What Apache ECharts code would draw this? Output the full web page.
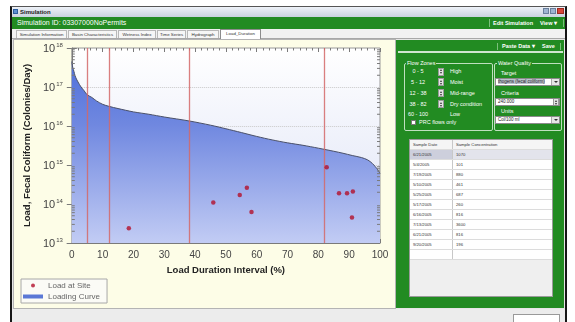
<!DOCTYPE html>
<html>
<head>
<meta charset="utf-8">
<script src="https://cdn.jsdelivr.net/npm/echarts@6/dist/echarts.min.js"></script>
<style>
  html,body{margin:0;padding:0;}
  body{width:575px;height:322px;overflow:hidden;background:#fff;position:relative;font-family:'Liberation Sans',Arial,sans-serif;}
  .a{position:absolute;box-sizing:border-box;white-space:nowrap;}
  .tab{position:absolute;top:30px;height:8px;border:1px solid #b8b8b8;border-bottom:none;background:#f6f6f6;font-size:4.4px;line-height:7px;color:#333;padding:0 2px;box-sizing:border-box;white-space:nowrap;overflow:hidden;text-align:center;}
  .w{color:#fff;}
  .spin{position:absolute;width:6px;height:8px;background:#e4e4e4;border:1px solid #9a9a9a;box-sizing:border-box;}
  .spin:before{content:'';position:absolute;left:1px;top:0.5px;border-left:1.5px solid transparent;border-right:1.5px solid transparent;border-bottom:2px solid #333;}
  .spin:after{content:'';position:absolute;left:1px;bottom:0.5px;border-left:1.5px solid transparent;border-right:1.5px solid transparent;border-top:2px solid #333;}
  .fld{position:absolute;background:#fff;border:1px solid #8a8a8a;box-sizing:border-box;font-size:4.5px;line-height:6px;color:#222;padding-left:2px;white-space:nowrap;overflow:hidden;}
  .dd{position:absolute;right:0;top:0;bottom:0;width:7px;background:#e6e6e6;border-left:1px solid #aaa;}
  .dd:after{content:'';position:absolute;left:1.5px;top:2px;border-left:2px solid transparent;border-right:2px solid transparent;border-top:2.5px solid #333;}
  .row{position:absolute;left:0;width:100%;height:10px;border-bottom:1px solid #dcdcdc;box-sizing:border-box;font-size:4.2px;line-height:9px;color:#333;white-space:nowrap;}
  .c1{position:absolute;left:0;top:0;width:43px;height:9px;padding-left:3px;box-sizing:border-box;border-right:1px solid #c8c8c8;}
  .c2{position:absolute;left:43px;top:0;right:0;height:9px;padding-left:3px;box-sizing:border-box;}
</style>
</head>
<body>
<!-- window frame -->
<div class="a" style="left:10px;top:6px;width:557px;height:320px;background:#e6e6e6;border-left:2px solid #161616;border-right:2px solid #161616;border-top:1px solid #555;"></div>
<!-- title bar -->
<div class="a" style="left:12px;top:7px;width:553px;height:10px;background:linear-gradient(#eef2f8,#c9d2de);"></div>
<div class="a" style="left:13px;top:9px;width:5px;height:5px;background:#5d8fd0;border:1px solid #2d5e9e;"></div>
<div class="a" style="left:20px;top:8px;font-size:6px;line-height:8px;font-weight:bold;color:#222;">Simulation</div>
<div class="a" style="left:543px;top:8px;width:6px;height:6px;background:#9fb4d0;border:1px solid #6a7f9c;"></div>
<div class="a" style="left:550px;top:8px;width:6px;height:6px;background:#9fb4d0;border:1px solid #6a7f9c;"></div>
<div class="a" style="left:557px;top:8px;width:7px;height:6px;background:#d9473a;border:1px solid #9c2a20;"></div>
<!-- green header -->
<div class="a" style="left:12px;top:17px;width:553px;height:12px;background:#228b22;"></div>
<div class="a w" style="left:17px;top:18px;font-size:7px;line-height:10px;">Simulation ID: 03307000NoPermits</div>
<div class="a" style="left:489px;top:19px;width:1px;height:8px;background:#7cc07c;"></div>
<div class="a w" style="left:493px;top:18px;font-size:5.5px;line-height:10px;font-weight:bold;">Edit Simulation</div>
<div class="a w" style="left:540px;top:18px;font-size:5.5px;line-height:10px;font-weight:bold;">View &#9662;</div>
<div class="a" style="left:563px;top:19px;width:1px;height:8px;background:#7cc07c;"></div>
<!-- tabs -->
<div class="a" style="left:12px;top:29px;width:553px;height:10px;background:#f1f1f1;border-bottom:1px solid #a8a8a8;"></div>
<div id="tabs"></div>
<!-- left chart panel -->
<div class="a" style="left:13px;top:39px;width:383px;height:270px;border:1px solid #b4b4b4;background:#fdfde7;"></div>
<div id="chart" class="a" style="left:14px;top:40px;width:381px;height:268px;"></div>
<!-- bottom strip -->
<div class="a" style="left:12px;top:309px;width:553px;height:13px;background:#ececec;"></div>
<div class="a" style="left:513px;top:314px;width:47px;height:10px;background:#fff;border:1px solid #999;"></div>
<!-- right green panel -->
<div class="a" style="left:396px;top:40px;width:168px;height:268px;background:#228b22;"></div>
<div class="a" style="left:497px;top:43px;width:1px;height:7px;background:#7cc07c;"></div>
<div class="a w" style="left:502px;top:42px;font-size:5.5px;line-height:8px;font-weight:bold;">Paste Data &#9662;</div>
<div class="a w" style="left:542px;top:42px;font-size:5.5px;line-height:8px;font-weight:bold;">Save</div>
<div class="a" style="left:560px;top:43px;width:1px;height:7px;background:#7cc07c;"></div>
<div class="a" style="left:398px;top:51px;width:165px;height:1.5px;background:#cfe6cf;"></div>
<!-- Flow zones group -->
<div class="a" style="left:404px;top:63px;width:89px;height:68px;border:1px solid #bfe0bf;border-radius:2px;"></div>
<div class="a w" style="left:406px;top:60px;font-size:5.5px;line-height:6px;background:#228b22;padding:0 1px;">Flow Zones</div>
<div id="zones"></div>
<div class="a" style="left:411px;top:120px;width:5px;height:5px;background:#fff;border:1px solid #777;"></div>
<div class="a w" style="left:419px;top:119px;font-size:5.5px;line-height:7px;">PRC flows only</div>
<!-- Water quality group -->
<div class="a" style="left:494px;top:63px;width:68px;height:68px;border:1px solid #bfe0bf;border-radius:2px;"></div>
<div class="a w" style="left:497px;top:60px;font-size:5.5px;line-height:6px;background:#228b22;padding:0 1px;">Water Quality</div>
<div class="a w" style="left:501px;top:70px;font-size:5.5px;line-height:7px;">Target</div>
<div class="fld" style="left:495px;top:78px;width:65px;height:8px;"><span style="background:#bcc3cf;">thogens (fecal coliform)</span><div class="dd"></div></div>
<div class="a w" style="left:501px;top:90px;font-size:5.5px;line-height:7px;">Criteria</div>
<div class="fld" style="left:495px;top:98px;width:65px;height:8px;">240.000<div class="spin" style="right:0;top:-1px;left:auto;width:6px;height:8px;"></div></div>
<div class="a w" style="left:501px;top:108px;font-size:5.5px;line-height:7px;">Units</div>
<div class="fld" style="left:495px;top:116px;width:65px;height:8px;">Col/100 ml<div class="dd"></div></div>
<!-- sample table -->
<div class="a" style="left:409px;top:139px;width:144px;height:158px;background:#efefef;border:1px solid #9a9a9a;"></div>
<div class="a" style="left:410px;top:140px;width:142px;height:120px;" id="table"></div>

<script>
// ---------- chart data ----------
const durationPct = [0, 0.3, 0.7, 1, 1.5, 2, 3, 4, 5, 6.5, 8, 10, 12, 15, 20, 25, 30, 38, 45, 50, 55, 60, 65, 70, 75, 80, 85, 88, 91, 94, 96, 97.5, 98.5, 99.3, 100];
const loadingCurve = [4.5e17, 3.2e17, 2.5e17, 2.0e17, 1.6e17, 1.35e17, 1.0e17, 8.0e16, 6.3e16, 5.4e16, 4.4e16, 3.6e16, 3.2e16, 2.8e16, 2.3e16, 2.0e16, 1.7e16, 1.35e16, 1.05e16, 8.5e15, 6.8e15, 5.4e15, 4.4e15, 3.7e15, 3.2e15, 2.7e15, 2.25e15, 2.0e15, 1.75e15, 1.55e15, 1.35e15, 1.1e15, 9.0e14, 7.5e14, 6.0e14];
const siteDuration = [18.5, 45.9, 54.5, 56.8, 58.3, 82.7, 86.7, 89.3, 91.2, 90.9];
const siteLoad = [2.4e13, 1.1e14, 1.7e14, 2.6e14, 6.2e13, 8.7e14, 1.9e14, 1.9e14, 2.1e14, 4.5e13];
const zoneBounds = [5, 12, 38, 82];
const xTickValues = [0, 10, 20, 30, 40, 50, 60, 70, 80, 90, 100];
const yDecades = [13, 14, 15, 16, 17, 18];
const minorMultipliers = [2, 3, 4, 5, 6, 7, 8, 9];

// ---------- UI data ----------
const tabNames = ['Simulation Information', 'Basin Characteristics', 'Wetness Index', 'Time Series', 'Hydrograph', 'Load_Duration'];
const tabLeft = [16, 68, 118, 157, 187, 220];
const tabWidth = [51, 49, 38, 29, 32, 41];
const zoneRanges = ['0 - 5', '5 - 12', '12 - 38', '38 - 82', '60 - 100'];
const zoneNames = ['High', 'Moist', 'Mid-range', 'Dry condition', 'Low'];
const sampleDates = ['6/21/2005', '5/4/2005', '7/19/2005', '5/10/2005', '5/25/2005', '5/17/2005', '6/16/2005', '7/13/2005', '6/21/2005', '9/20/2005'];
const sampleConc = ['1070', '101', '880', '461', '687', '260', '816', '3600', '816', '196'];

// build tabs
let th = '';
tabNames.forEach((t, i) => {
  const act = i === tabNames.length - 1;
  th += `<div class="tab" style="left:${tabLeft[i]}px;width:${tabWidth[i]}px;${act ? 'top:29px;height:10px;line-height:8px;background:#fff;border-color:#8c8c8c;' : ''}">${t}</div>`;
});
document.getElementById('tabs').innerHTML = th;

// build flow zones
const zoneY = [68, 78.5, 89.5, 100.5, 111];
let zh = '';
zoneRanges.forEach((r, i) => {
  zh += `<div class="a w" style="left:405px;top:${zoneY[i]}px;width:26px;text-align:center;font-size:5.5px;line-height:7px;">${r}</div>`;
  if (i < 4) zh += `<div class="spin" style="left:438px;top:${zoneY[i] - 0.5}px;"></div>`;
  zh += `<div class="a w" style="left:450px;top:${zoneY[i]}px;font-size:5.5px;line-height:7px;">${zoneNames[i]}</div>`;
});
document.getElementById('zones').innerHTML = zh;

// build table
let tb = `<div class="row" style="top:0;background:#f5f5f5;"><div class="c1">Sample Date</div><div class="c2">Sample Concentration</div></div>`;
sampleDates.forEach((d, i) => {
  const sel = i === 0;
  tb += `<div class="row" style="top:${(i + 1) * 10}px;background:#fff;"><div class="c1" style="${sel ? 'background:#cdcfdc;' : ''}">${d}</div><div class="c2" style="${sel ? 'background:#e3e4ec;' : ''}">${sampleConc[i]}</div></div>`;
});
tb += `<div class="row" style="top:110px;background:#fff;"><div class="c1"></div><div class="c2"></div></div>`;
document.getElementById('table').innerHTML = tb;

// ---------- chart ----------
const chart = echarts.init(document.getElementById('chart'), null, {renderer: 'canvas'});
const minorTickData = [];
yDecades.slice(0, -1).forEach(d => minorMultipliers.forEach(m => minorTickData.push([0, m * Math.pow(10, d)])));

const axisGray = '#7a7a7a';
const zoneRed = '#d46868';
const yMin = 1e13, yMax = 1e18;
const option = {
  backgroundColor: '#fdfde7',
  animation: false,
  textStyle: {fontFamily: 'Liberation Sans, Arial, sans-serif'},
  grid: {
    left: 53, top: 8, right: 15, bottom: 65, show: true,
    borderColor: '#9a9a9a', borderWidth: 1,
    backgroundColor: new echarts.graphic.LinearGradient(0, 0, 0, 1, [
      {offset: 0, color: '#ffffff'}, {offset: 1, color: '#dde2f6'}
    ])
  },
  legend: {
    orient: 'vertical', left: 7, top: 239,
    itemWidth: 20, itemHeight: 4, itemGap: 0,
    padding: [1, 7, 1, 2],
    backgroundColor: '#fbfbf6', borderColor: '#a8a8a8', borderWidth: 1,
    textStyle: {fontSize: 8, color: '#666', lineHeight: 11},
    data: [
      {name: 'Load at Site', icon: 'circle', itemStyle: {color: '#b3102c'}},
      {name: 'Loading Curve', icon: 'rect', itemStyle: {color: '#5b78d6', borderWidth: 0}}
    ]
  },
  xAxis: [{
    type: 'value', min: 0, max: 100, interval: 10, position: 'bottom',
    axisLine: {show: true, lineStyle: {color: axisGray}},
    axisTick: {inside: true, length: 4, lineStyle: {color: axisGray}},
    minorTick: {show: true, splitNumber: 5, length: 2.5, lineStyle: {color: axisGray}},
    axisLabel: {color: '#444', fontSize: 10, margin: 7, formatter: v => xTickValues.includes(v) ? String(v) : ''},
    splitLine: {show: false},
    name: 'Load Duration Interval (%)', nameLocation: 'middle', nameGap: 22,
    nameTextStyle: {fontWeight: 'bold', fontSize: 9.5, color: '#222'}
  }, {
    type: 'value', min: 0, max: 100, interval: 10, position: 'top',
    axisLine: {show: false},
    axisTick: {inside: true, length: 4, lineStyle: {color: axisGray}},
    minorTick: {show: true, splitNumber: 5, length: 2.5, lineStyle: {color: axisGray}},
    axisLabel: {show: false}, splitLine: {show: false}
  }],
  yAxis: [{
    type: 'log', logBase: 10, min: yMin, max: yMax, splitNumber: 5,
    axisLine: {show: true, lineStyle: {color: axisGray}},
    axisTick: {inside: true, length: 5, lineStyle: {color: axisGray}},
    axisLabel: {
      margin: 9, color: '#444',
      formatter: v => '{b|10}{s|' + Math.round(Math.log10(v)) + '}',
      rich: {
        b: {fontSize: 11, lineHeight: 12, verticalAlign: 'bottom', color: '#444'},
        s: {fontSize: 6, lineHeight: 7, verticalAlign: 'top', padding: [0, 0, 6, 1], color: '#444'}
      }
    },
    splitLine: {show: true, lineStyle: {color: '#c9c9c9', type: 'dotted', width: 1}},
    name: 'Load, Fecal Coliform (Colonies/Day)', nameLocation: 'middle', nameGap: 33,
    nameTextStyle: {fontWeight: 'bold', fontSize: 9.5, color: '#222'}
  }, {
    type: 'log', logBase: 10, min: yMin, max: yMax, splitNumber: 5, position: 'right',
    axisLine: {show: false},
    axisTick: {inside: true, length: 5, lineStyle: {color: axisGray}},
    axisLabel: {show: false}, splitLine: {show: false}
  }],
  series: [{
    name: 'Loading Curve', type: 'line',
    data: durationPct.map((x, i) => [x, loadingCurve[i]]),
    symbol: 'none', smooth: 0.3, z: 2,
    itemStyle: {color: '#5b78d6'},
    lineStyle: {color: '#4a5068', width: 1},
    areaStyle: {
      origin: 'start', opacity: 1,
      color: new echarts.graphic.LinearGradient(0, 0, 0, 1, [
        {offset: 0, color: '#5070db'}, {offset: 0.35, color: '#7088e0'}, {offset: 1, color: '#c2ccf4'}
      ])
    },
    markLine: {
      silent: true, symbol: ['none', 'none'], animation: false,
      label: {show: false},
      itemStyle: {color: zoneRed},
      lineStyle: {color: zoneRed, type: 'solid', width: 1.3, opacity: 0.85},
      emphasis: {disabled: true},
      data: zoneBounds.map(v => ({xAxis: v, lineStyle: {color: zoneRed, width: 1.3}}))
    }
  }, {
    name: 'Load at Site', type: 'scatter',
    data: siteDuration.map((x, i) => [x, siteLoad[i]]),
    symbol: 'circle', symbolSize: 4.5, z: 5,
    itemStyle: {color: '#b3102c'}
  }, {
    name: 'minor', type: 'custom', silent: true, z: 4,
    itemStyle: {color: axisGray},
    data: minorTickData,
    renderItem: (params, api) => {
      const v = api.value(1);
      const pl = api.coord([0, v]);
      const pr = api.coord([100, v]);
      return {type: 'group', children: [
        {type: 'line', shape: {x1: pl[0], y1: pl[1], x2: pl[0] + 3, y2: pl[1]}, style: {stroke: axisGray, lineWidth: 1}},
        {type: 'line', shape: {x1: pr[0], y1: pr[1], x2: pr[0] - 3, y2: pr[1]}, style: {stroke: axisGray, lineWidth: 1}}
      ]};
    }
  }]
};
chart.setOption(option);
</script>
</body>
</html>
